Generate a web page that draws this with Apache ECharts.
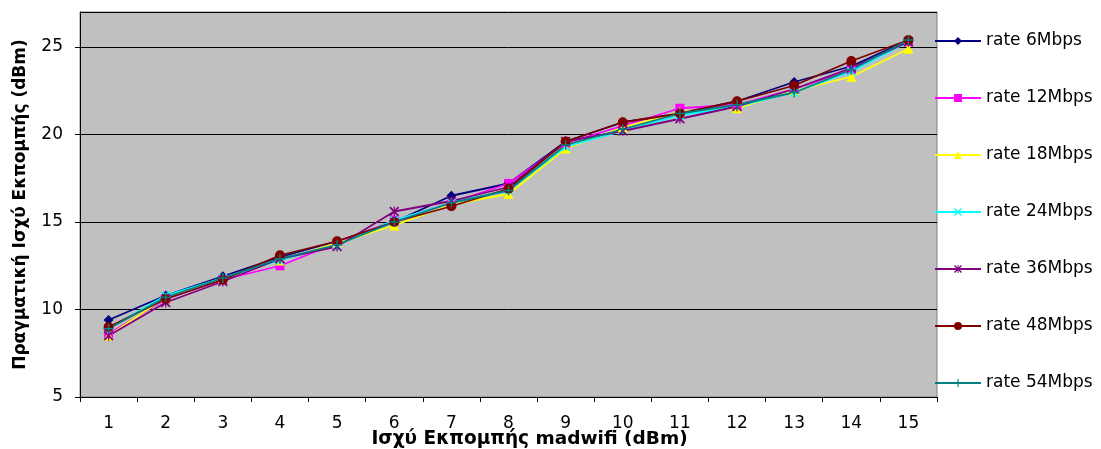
<!DOCTYPE html>
<html><head><meta charset="utf-8">
<script src="https://cdn.jsdelivr.net/npm/echarts@6/dist/echarts.min.js"></script>
<style>html,body{margin:0;padding:0;background:#fff}#c{width:1101px;height:449px}</style>
</head><body><div id="c"></div>
<script>
const categories = ['1','2','3','4','5','6','7','8','9','10','11','12','13','14','15'];
const seriesNames = ['rate 6Mbps','rate 12Mbps','rate 18Mbps','rate 24Mbps','rate 36Mbps','rate 48Mbps','rate 54Mbps'];
const rate6  = [9.4, 10.8, 11.9, 13.0, 13.9, 15.0, 16.5, 17.2, 19.6, 20.7, 21.2, 21.9, 23.0, 23.9, 25.4];
const rate12 = [8.6, 10.6, 11.7, 12.5, 13.8, 15.1, 16.1, 17.2, 19.5, 20.5, 21.5, 21.7, 22.6, 23.7, 25.3];
const rate18 = [8.5, 10.7, 11.8, 12.8, 13.8, 14.8, 16.0, 16.6, 19.2, 20.4, 21.3, 21.5, 22.5, 23.3, 24.9];
const rate24 = [8.9, 10.8, 11.8, 12.8, 13.7, 15.1, 16.1, 16.8, 19.3, 20.2, 21.1, 21.6, 22.4, 23.6, 25.3];
const rate36 = [8.5, 10.4, 11.6, 12.9, 13.6, 15.6, 16.2, 17.0, 19.6, 20.2, 20.9, 21.6, 22.6, 23.8, 25.3];
const rate48 = [9.0, 10.6, 11.7, 13.1, 13.9, 15.0, 15.9, 16.9, 19.6, 20.7, 21.2, 21.9, 22.8, 24.2, 25.4];
const rate54 = [8.9, 10.7, 11.8, 12.9, 13.7, 15.0, 16.1, 16.8, 19.4, 20.3, 21.2, 21.7, 22.4, 23.7, 25.4];
const yTicks = [5, 10, 15, 20, 25];

const allData = [rate6, rate12, rate18, rate24, rate36, rate48, rate54];
const colors = ['#000080','#FF00FF','#FFFF00','#00FFFF','#800080','#800000','#008080'];
const xPath = 'path://M0,1.2 L1.2,0 L5,3.8 L8.8,0 L10,1.2 L6.2,5 L10,8.8 L8.8,10 L5,6.2 L1.2,10 L0,8.8 L3.8,5 Z';
const plusPath = 'path://M4.3,0 H5.7 V4.3 H10 V5.7 H5.7 V10 H4.3 V5.7 H0 V4.3 H4.3 Z';
const starPath = 'path://M0,1.2 L1.2,0 L5,3.8 L8.8,0 L10,1.2 L6.2,5 L10,8.8 L8.8,10 L5,6.2 L1.2,10 L0,8.8 L3.8,5 Z M4.4,0 H5.6 V10 H4.4 Z';
const symbols = ['diamond','rect','triangle',xPath,starPath,'circle',plusPath];
const sizes = [10,9,10,9,10,10,10];
const FONT = 'DejaVu Sans, Liberation Sans, Arial, sans-serif';

const chart = echarts.init(document.getElementById('c'), null, {renderer:'canvas'});
chart.setOption({
  animation: false,
  textStyle: {fontFamily: FONT},
  grid: {left: 80, right: 164, top: 12, bottom: 52, containLabel: false, outerBoundsMode: 'none',
    show: true, backgroundColor: '#C0C0C0', borderColor: '#808080', borderWidth: 1},
  legend: {
    orient: 'vertical', left: 934, top: 31, padding: 0, itemWidth: 46, itemHeight: 10, itemGap: 37,
    textStyle: {fontSize: 17, lineHeight: 20, color: '#000', fontFamily: FONT},
    data: seriesNames
  },
  xAxis: {
    type: 'category', data: categories, boundaryGap: true,
    name: 'Ισχύ Εκπομπής madwifi (dBm)', nameLocation: 'middle', nameGap: 33, nameMoveOverlap: false,
    nameTextStyle: {fontSize: 18.5, fontWeight: 'bold', color: '#000', fontFamily: FONT, padding: [0,0,0,42]},
    axisLine: {lineStyle: {color: '#000'}},
    axisTick: {show: true, length: 5, lineStyle: {color: '#000'}},
    axisLabel: {fontSize: 17, color: '#000', margin: 18, fontFamily: FONT},
    splitLine: {show: false}
  },
  yAxis: {
    type: 'value', min: 5, max: 27, interval: 5,
    name: 'Πραγματική Ισχύ Εκπομπής (dBm)', nameLocation: 'middle', nameGap: 51, nameMoveOverlap: false,
    nameTextStyle: {fontSize: 17, fontWeight: 'bold', color: '#000', fontFamily: FONT},
    axisLine: {show: true, lineStyle: {color: '#000'}},
    axisTick: {show: true, length: 5, lineStyle: {color: '#000'}},
    axisLabel: {fontSize: 17, color: '#000', margin: 17, showMaxLabel: false, fontFamily: FONT,
      formatter: v => yTicks.includes(v) ? String(v) : ''},
    splitLine: {show: true, lineStyle: {color: '#000', width: 1}}
  },
  series: seriesNames.map((n, i) => ({
    name: n, type: 'line', data: allData[i],
    symbol: symbols[i], symbolSize: sizes[i], showAllSymbol: true,
    itemStyle: {color: colors[i], borderWidth: 0},
    lineStyle: {color: colors[i], width: 1.8},
    emphasis: {disabled: true}
  }))
});
</script></body></html>
